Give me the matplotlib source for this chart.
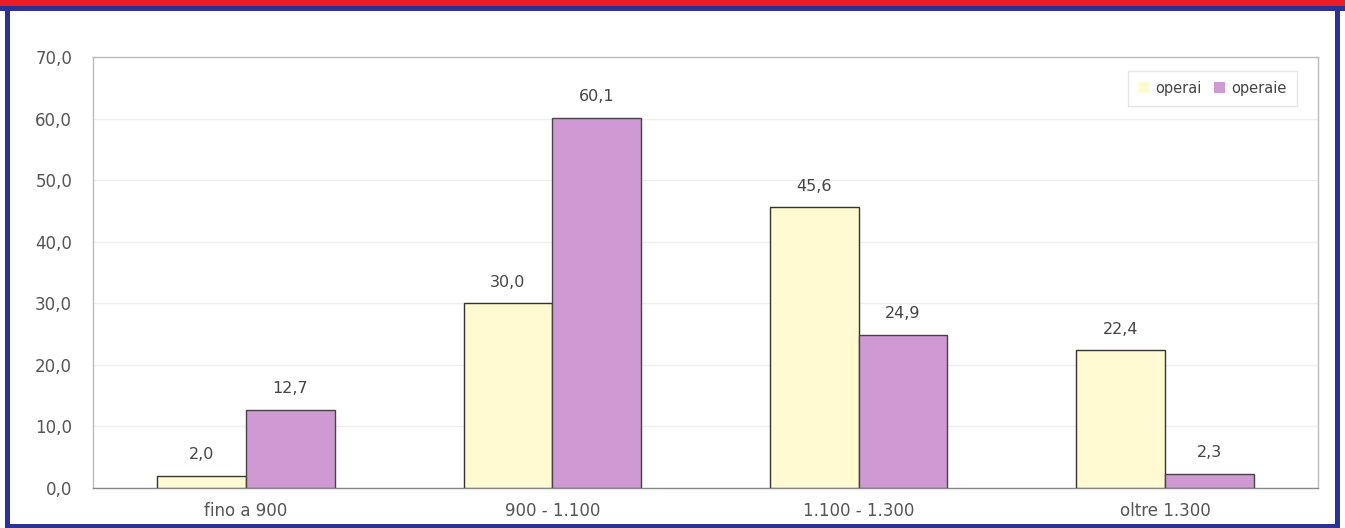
import matplotlib
matplotlib.use("Agg")
import matplotlib.pyplot as plt
from matplotlib.patches import Rectangle
import numpy as np

plt.rcParams["font.family"] = ["DejaVu Sans"]

categories = ["fino a 900", "900 - 1.100", "1.100 - 1.300", "oltre 1.300"]
operai = [2.0, 30.0, 45.6, 22.4]
operaie = [12.7, 60.1, 24.9, 2.3]
yticks = [0, 10, 20, 30, 40, 50, 60, 70]

W, H = 1345, 528
fig = plt.figure(figsize=(W / 100, H / 100), dpi=100)
fig.patch.set_facecolor("white")

# frame decorations
blue = "#2B3296"
fig.patches.append(Rectangle((0, 1 - 7 / H), 1, 7 / H, transform=fig.transFigure,
                             facecolor="#ED1C24", edgecolor="none", zorder=0))
fig.patches.append(Rectangle((0, 1 - 11 / H), 1, 4.5 / H, transform=fig.transFigure,
                             facecolor=blue, edgecolor="none", zorder=0))
fig.patches.append(Rectangle((5 / W, 0), 5 / W, 1 - 7 / H, transform=fig.transFigure,
                             facecolor=blue, edgecolor="none", zorder=0))
fig.patches.append(Rectangle((1335 / W, 0), 5 / W, 1 - 7 / H, transform=fig.transFigure,
                             facecolor=blue, edgecolor="none", zorder=0))
fig.patches.append(Rectangle((5 / W, 0), 1335 / W, 4 / H, transform=fig.transFigure,
                             facecolor=blue, edgecolor="none", zorder=0))

ax = fig.add_axes([93 / W, 1 - 488 / H, (1318 - 93) / W, (488 - 57) / H])
x = np.arange(len(categories))
bw = 0.29
b1 = ax.bar(x - bw / 2, operai, bw, color="#FFFAD2", edgecolor="#333333",
            linewidth=1.0, label="operai", zorder=3)
b2 = ax.bar(x + bw / 2, operaie, bw, color="#CF99D3", edgecolor="#444444",
            linewidth=1.0, label="operaie", zorder=3)

for bars, vals in ((b1, operai), (b2, operaie)):
    for r, v in zip(bars, vals):
        ax.text(r.get_x() + r.get_width() / 2, v + 2.2, f"{v:.1f}".replace(".", ","),
                ha="center", va="bottom", fontsize=11.5, color="#444444", zorder=4)

ax.set_xlim(-0.5, len(categories) - 0.5)
ax.set_ylim(0, 70)
ax.set_yticks(yticks)
ax.set_yticklabels([f"{t:.1f}".replace(".", ",") for t in yticks])
ax.set_xticks(x)
ax.set_xticklabels(categories)
ax.tick_params(axis="both", length=0, labelsize=12, labelcolor="#555555")
ax.tick_params(axis="y", pad=15)
ax.tick_params(axis="x", pad=10)

ax.grid(axis="y", color="#EEEEEE", linewidth=1.0, zorder=0)
for s in ax.spines.values():
    s.set_color("#BBBBBB")
    s.set_linewidth(1.0)
ax.spines["bottom"].set_color("#888888")

leg = ax.legend(loc="upper right", ncol=2, fontsize=10.5, frameon=True,
                handlelength=0.8, handleheight=0.8, handletextpad=0.4,
                columnspacing=0.8, bbox_to_anchor=(0.985, 0.975),
                borderpad=0.4)
leg.get_frame().set_edgecolor("#E0E0E0")
leg.get_frame().set_linewidth(1.0)
leg.get_frame().set_boxstyle("square")
for t in leg.get_texts():
    t.set_color("#444444")
for h in leg.legend_handles:
    h.set_edgecolor("none")

fig.savefig("out.png", dpi=100)
